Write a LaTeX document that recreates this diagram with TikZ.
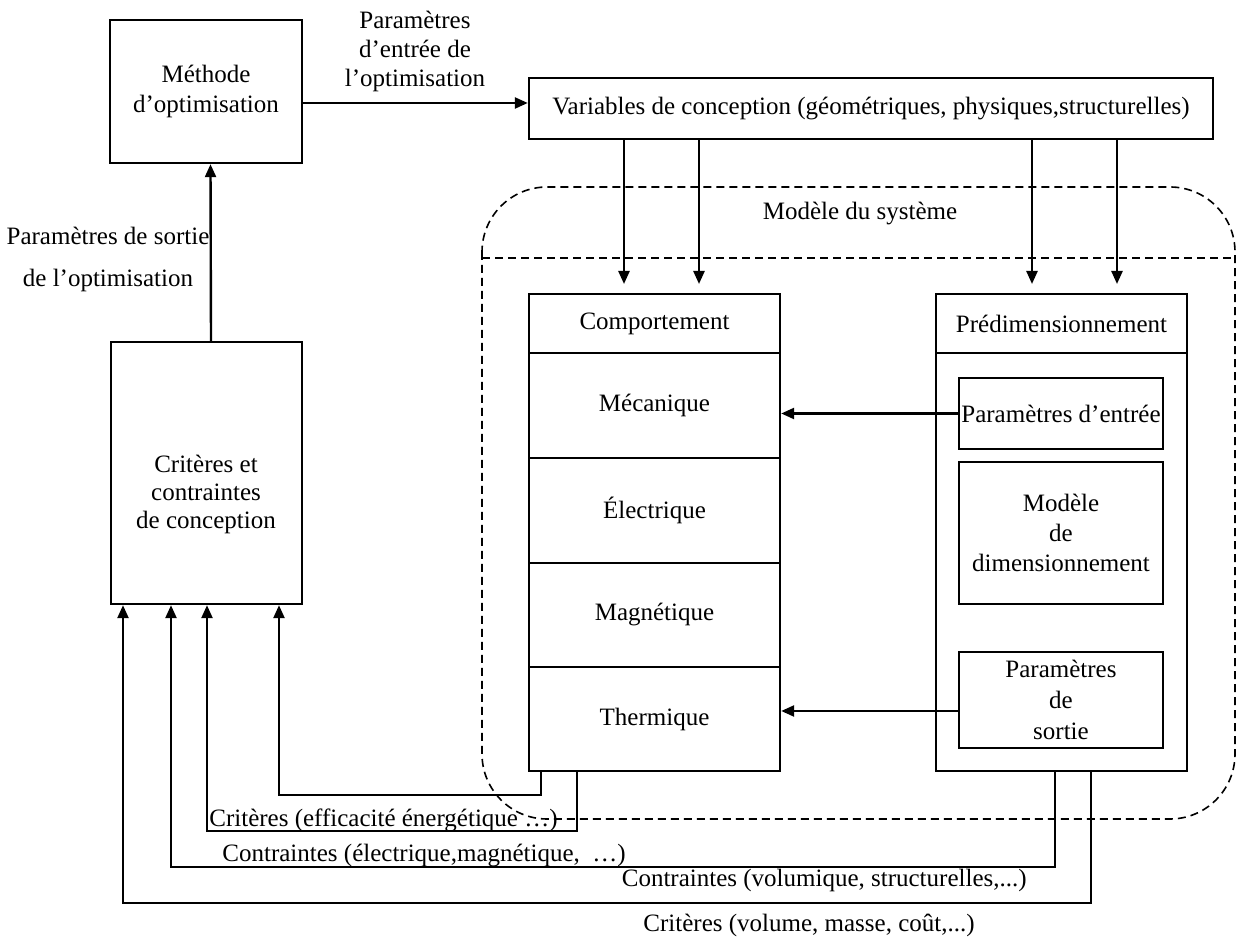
\documentclass[tikz,border=0pt]{standalone}
\usepackage{fontspec}
\setmainfont{Liberation Serif}
\usetikzlibrary{arrows.meta}
\begin{document}
\begin{tikzpicture}[x=0.5pt,y=-0.5pt,
  box/.style={draw,line width=1.2pt,inner sep=0pt,align=center},
  lbl/.style={inner sep=0pt,align=center},
  arr/.style={line width=1.2pt,-{Triangle[length=6.5pt,width=5.5pt]}},
  dsh/.style={line width=0.8pt,dash pattern=on 4pt off 2.5pt},
  font=\fontsize{12.5}{15}\selectfont]
\useasboundingbox (0,0) rectangle (1239,940);

% dashed system region
\draw[dsh,rounded corners=32.5pt] (482,187) rectangle (1235,819);
\draw[dsh] (482,258) -- (1235,258);
\node[lbl] (modsys) at (860,214) {Modèle du système};

% left boxes
\node[box,minimum width=96pt,minimum height=71.5pt] (meth) at (206,91.5) {Méthode\\d’optimisation};
\node[box,minimum width=95.5pt,minimum height=131pt] (crit) at (206.5,473) {};
\node[lbl,font=\fontsize{12.5}{14}\selectfont] (crittxt) at (206,494) {Critères et\\contraintes\\de conception};

% variables
\node[box,minimum width=342pt,minimum height=30.5pt] (vars) at (871,108.5) {Variables de conception (géométriques, physiques,structurelles)};

% comportement
\node[box,minimum width=125.5pt,minimum height=29.5pt] (comph) at (654.5,323.5) {Comportement};
\node[box,minimum width=125.5pt,minimum height=52.5pt] (mec) at (654.5,405.5) {Mécanique};
\node[box,minimum width=125.5pt,minimum height=52.5pt] (elec) at (654.5,510.5) {Électrique};
\node[box,minimum width=125.5pt,minimum height=52pt] (mag) at (654.5,615) {Magnétique};
\node[box,minimum width=125.5pt,minimum height=52pt] (therm) at (654.5,719) {Thermique};

% predimensionnement
\node[box,minimum width=125.5pt,minimum height=29.5pt] (predh) at (1061.5,323.5) {Prédimensionnement};
\node[box,minimum width=125.5pt,minimum height=209pt] (predb) at (1061.5,562) {};
\node[box,minimum width=102pt,minimum height=35.5pt] (pin) at (1061,413.5) {Paramètres d’entrée};
\node[box,minimum width=102pt,minimum height=71pt] (pmod) at (1061,533) {Modèle\\de\\dimensionnement};
\node[box,minimum width=102pt,minimum height=48pt,font=\fontsize{12.5}{15.5}\selectfont] (pout) at (1061,700) {Paramètres\\de\\sortie};

% labels top-left
\node[lbl,font=\fontsize{12.5}{14.5}\selectfont] (inlbl) at (415,51) {Paramètres\\d’entrée de\\l’optimisation};
\node[lbl,font=\fontsize{12.5}{21}\selectfont] (outlbl) at (108,259) {Paramètres de sortie\\de l’optimisation};

% main arrows
\draw[arr] ([yshift=2.75pt]vars.west -| meth.east) -- ([yshift=2.75pt]vars.west);
\draw[arr] ([xshift=2.25pt]crit.north) -- ([xshift=2.25pt]meth.south);
\draw[arr] (pin.west) -- (pin.west -| mec.east);
\draw[arr] ([yshift=-5.5pt]pout.west) -- ([yshift=-5.5pt]pout.west -| therm.east);

% down arrows from variables
\coordinate (t1) at (624,284);
\coordinate (t2) at (699,284);
\coordinate (t3) at (1032,284);
\coordinate (t4) at (1117,284);
\foreach \t in {t1,t2,t3,t4}{\draw[arr] (vars.south -| \t) -- (\t);}

% feedback lines
\coordinate (b1) at (541,795);  \coordinate (e1) at (279,0);
\coordinate (b2) at (577,831);  \coordinate (e2) at (207,0);
\coordinate (b3) at (1055,867); \coordinate (e3) at (171,0);
\coordinate (b4) at (1091,903); \coordinate (e4) at (123,0);
\draw[arr] (therm.south -| b1) -- (b1) -| (crit.south -| e1);
\draw[arr] (therm.south -| b2) -- (b2) -| (crit.south -| e2);
\draw[arr] (predb.south -| b3) -- (b3) -| (crit.south -| e3);
\draw[arr] (predb.south -| b4) -- (b4) -| (crit.south -| e4);

\node[lbl,anchor=west] (l1) at (209,820) {Critères (efficacité énergétique …)};
\node[lbl,anchor=west] (l2) at (222,856) {Contraintes (électrique,magnétique,\ \ …)};
\node[lbl,anchor=east] (l3) at (1027,880) {Contraintes (volumique, structurelles,...)};
\node[lbl,anchor=east] (l4) at (975,925) {Critères (volume, masse, coût,...)};
\end{tikzpicture}
\end{document}
